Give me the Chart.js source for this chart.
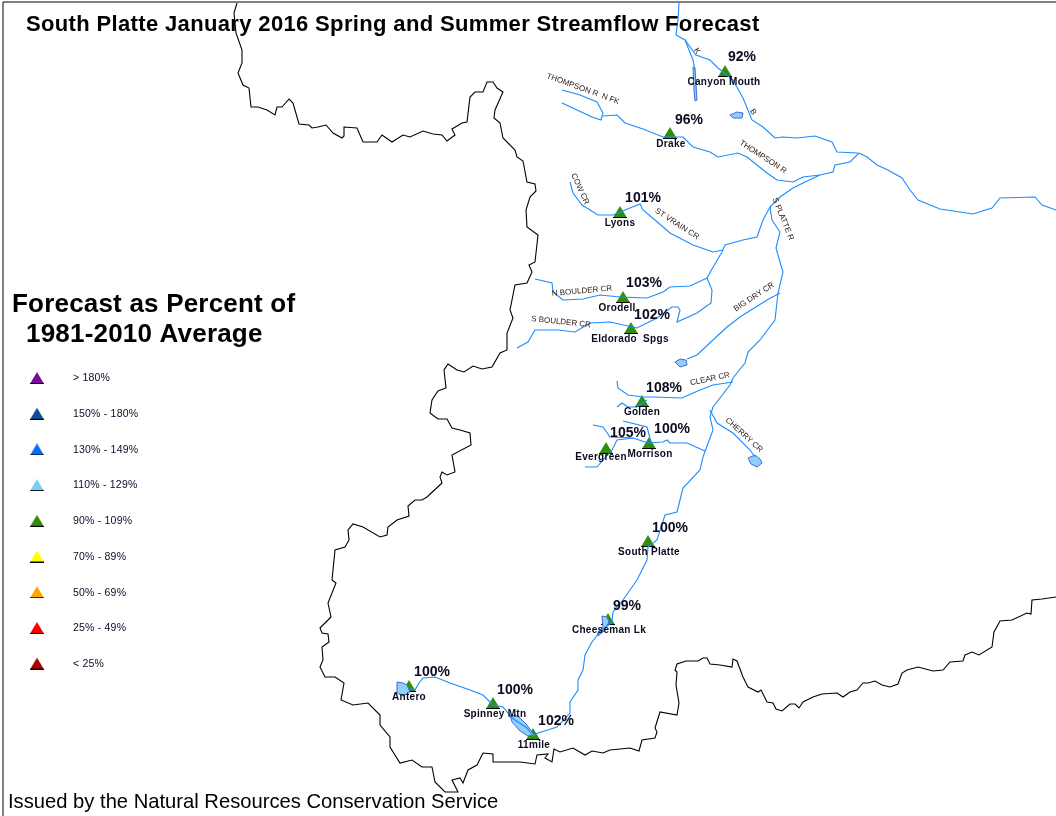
<!DOCTYPE html>
<html>
<head>
<meta charset="utf-8">
<script src="https://cdn.jsdelivr.net/npm/chart.js@4"></script>
<style>
  html, body { margin: 0; background: #fff; }
  canvas { display: block; }
</style>
</head>
<body>
<canvas id="map" width="1056" height="816"></canvas>
<script>
// stations
const stationNames = ['Canyon Mouth', 'Drake', 'Lyons', 'Orodell', 'Eldorado  Spgs', 'Golden', 'Morrison', 'Evergreen', 'South Platte', 'Cheeseman Lk', 'Spinney Mtn', '11mile', 'Antero'];
const stationPct = ['92%', '96%', '101%', '103%', '102%', '108%', '100%', '105%', '100%', '99%', '100%', '102%', '100%'];
const stationX = [725, 670, 620, 623, 631, 642, 649, 606, 648, 608, 493, 533, 409];
const stationY = [71, 133, 212, 297, 328, 401, 443, 448, 541, 619, 703, 734, 686];
const nameX = [724, 671, 620, 617, 630, 642, 650, 601, 649, 609, 495, 534, 409];
const nameY = [82, 144, 223, 308, 339, 412, 454, 457, 552, 630, 714, 745, 697];
const pctX = [742, 689, 643, 644, 652, 664, 672, 628, 670, 627, 515, 556, 432];
const pctY = [57, 120, 198, 283, 315, 388, 429, 433, 528, 606, 690, 721, 672];

// legend classes
const legendLabels = ['> 180%', '150% - 180%', '130% - 149%', '110% - 129%', '90% - 109%', '70% - 89%', '50% - 69%', '25% - 49%', '< 25%'];
const legendColors = ['#7a0a9c', '#0f4c9c', '#0a6cf0', '#78cdf5', '#2f8f0a', '#ffff00', '#ffa500', '#ff0000', '#a80000'];

// river names on the map
const riverNames = ['THOMPSON R  N FK', 'THOMPSON R', 'COW CR', 'ST VRAIN CR', 'S PLATTE R', 'K', 'B', 'N BOULDER CR', 'S BOULDER CR', 'BIG DRY CR', 'CLEAR CR', 'CHERRY CR'];
const riverNameX = [583, 763, 580, 677, 783, 697, 753, 582, 561, 754, 710, 744];
const riverNameY = [89, 157, 189, 224, 219, 51, 112, 291, 322, 297, 379, 435];
const riverNameAngle = [20, 33, 65, 33, 68, 60, 60, -5, 6, -33, -12, 42];

// basin outline
const boundary = [[237,3],[234,13],[236,33],[242,50],[242,63],[238,73],[243,85],[249,88],[251,107],[258,107],[267,110],[275,115],[277,107],[282,107],[289,99],[293,103],[299,124],[309,125],[312,128],[318,127],[326,125],[333,133],[342,138],[344,136],[344,127],[357,128],[363,142],[377,142],[382,135],[392,142],[403,135],[410,137],[423,131],[433,134],[442,135],[447,141],[455,135],[452,129],[462,123],[467,122],[470,97],[475,92],[483,92],[487,82],[493,82],[497,88],[503,92],[495,110],[494,118],[500,123],[503,138],[515,150],[517,157],[523,161],[527,182],[535,184],[536,191],[530,197],[526,210],[527,227],[538,235],[535,262],[529,265],[532,272],[527,283],[515,285],[510,310],[513,318],[507,333],[507,350],[500,353],[492,367],[482,369],[473,366],[464,372],[457,370],[448,364],[444,370],[446,388],[438,391],[432,400],[430,413],[438,419],[447,419],[452,428],[460,430],[470,433],[471,445],[452,455],[455,472],[447,475],[442,472],[440,477],[442,483],[427,497],[422,500],[415,500],[408,506],[409,516],[397,520],[388,527],[387,535],[380,537],[363,527],[353,524],[348,530],[349,540],[345,547],[335,550],[332,580],[336,583],[328,603],[331,617],[320,628],[322,633],[328,634],[329,642],[322,647],[323,660],[320,667],[325,677],[335,677],[344,683],[341,700],[353,705],[368,703],[380,715],[380,725],[390,737],[390,747],[400,763],[412,760],[422,767],[432,767],[435,782],[445,792],[458,792],[452,780],[460,778],[463,783],[468,770],[477,765],[483,753],[493,754],[493,762],[520,762],[535,764],[537,755],[548,754],[545,758],[552,762],[554,749],[560,752],[573,748],[585,755],[592,751],[603,753],[610,750],[620,749],[630,748],[639,751],[642,740],[655,738],[657,732],[655,728],[660,712],[677,715],[679,703],[676,685],[677,672],[675,670],[677,664],[686,661],[698,661],[703,658],[707,658],[710,664],[720,665],[732,667],[733,659],[737,661],[743,677],[748,687],[758,692],[761,690],[767,702],[773,703],[776,709],[782,711],[790,704],[795,704],[799,708],[803,702],[813,697],[822,694],[837,693],[843,697],[850,692],[857,690],[863,683],[868,683],[875,681],[882,685],[890,687],[898,684],[902,673],[907,670],[918,667],[933,671],[943,670],[950,662],[963,661],[965,655],[972,652],[979,655],[992,647],[994,632],[1000,621],[1012,620],[1027,613],[1031,614],[1032,600],[1042,599],[1056,597]];
const frame = [[3,816],[3,2],[1056,2]];

// streams
const cachePoudre = [[679,3],[678,20],[676,35],[685,40],[696,55],[710,60],[718,68],[733,80],[743,98],[752,120],[763,127],[775,138],[783,137],[797,138],[815,136],[832,142],[837,152],[858,153]];
const cacheBranch = [[685,40],[693,60],[695,70]];
const plattePlains = [[859,153],[867,157],[877,165],[888,170],[902,178],[910,190],[918,200],[940,209],[973,214],[992,208],[1000,198],[1035,197],[1042,205],[1056,210]];
const thompsonNorth = [[562,90],[580,95],[597,102],[603,113],[601,120],[592,117],[577,110],[562,103]];
const thompson = [[603,116],[617,115],[625,123],[643,129],[663,137],[683,137],[693,147],[710,152],[718,157],[738,153],[747,157],[767,173],[777,180],[793,182],[803,177],[820,175],[833,172],[835,165],[850,162],[859,153]];
const platteUpper = [[820,175],[805,182],[793,188],[780,197],[770,207],[772,220],[780,232],[776,248],[780,262],[783,272],[778,293],[775,320],[760,340],[748,352],[745,363],[733,378],[730,385],[713,407],[710,417],[713,430],[703,457],[700,470],[683,488],[677,512],[665,515],[657,540],[648,547],[647,560],[637,580],[623,600],[613,612],[612,622],[600,632],[592,642],[585,655],[583,670],[578,680],[578,690],[570,702],[570,713],[557,727],[538,733],[533,736]];
const platteMiddle = [[533,736],[527,728],[512,718],[503,707],[493,705],[483,695],[470,690],[450,683],[435,677],[423,678],[419,683],[415,690],[409,688]];
const boulderJoin = [[770,207],[763,220],[757,237],[743,240],[725,245],[722,252],[712,269],[707,278]];
const stVrain = [[570,182],[573,193],[582,205],[598,215],[613,215],[625,210],[640,204],[643,210],[655,220],[670,233],[693,245],[713,252],[723,250]];
const boulderNorth = [[535,279],[552,283],[553,292],[563,300],[583,299],[600,295],[620,297],[647,298],[663,292],[670,287],[690,286],[707,278]];
const boulderSouth = [[707,278],[712,290],[711,303],[697,313],[677,322],[680,310],[678,307],[672,307],[657,318],[637,328],[610,322],[590,323],[575,332],[558,330],[535,330],[528,342],[517,348]];
const bigDry = [[687,359],[697,355],[713,340],[727,327],[740,317],[767,300],[780,293]];
const clearCreek = [[617,381],[618,388],[628,395],[643,397],[653,397],[682,398],[700,390],[713,385],[733,382]];
const clearBranch = [[617,407],[622,403],[628,407],[637,407],[647,400]];
const bearCreek = [[593,425],[603,427],[610,437],[633,438],[648,443],[663,442],[667,440],[670,443],[687,443],[705,451]];
const bearUpper = [[623,421],[647,427],[651,442]];
const evergreenCreek = [[633,438],[617,440],[612,450],[603,460],[597,467],[585,467]];
const cherryCreek = [[710,410],[717,423],[733,433],[750,450],[755,457]];
const streams = [cachePoudre, cacheBranch, plattePlains, thompsonNorth, thompson, platteUpper, platteMiddle, boulderJoin, stVrain, boulderNorth, boulderSouth, bigDry, clearCreek, clearBranch, bearCreek, bearUpper, evergreenCreek, cherryCreek];

// lakes
const lakeCarter = [[693,67],[695,68],[696,85],[697,100],[695,101],[694,90]];
const lakeHorsetooth = [[730,115],[737,112],[743,113],[742,118],[733,118]];
const lakeBigDry = [[675,362],[680,359],[686,360],[687,365],[680,367]];
const lakeCherry = [[748,458],[755,455],[760,459],[762,463],[757,467],[751,464]];
const lakeAntero = [[397,682],[403,683],[407,685],[410,692],[403,696],[397,693]];
const lakeSpinney = [[510,715],[518,716],[527,725],[534,735],[528,736],[520,731],[512,722]];
const lakeCheeseman = [[602,616],[607,617],[609,622],[604,631],[598,636],[597,634],[603,627]];
const lakes = [lakeCarter, lakeHorsetooth, lakeBigDry, lakeCherry, lakeAntero, lakeSpinney, lakeCheeseman];

const toPts = arr => arr.map(p => ({ x: p[0], y: p[1] }));

// triangle marker with the black base the map symbols have
function makeMarker(color) {
  const c = document.createElement('canvas');
  c.width = 14; c.height = 12;
  const g = c.getContext('2d');
  g.beginPath();
  g.moveTo(7, 0);
  g.lineTo(13.5, 11);
  g.lineTo(0.5, 11);
  g.closePath();
  g.fillStyle = color;
  g.fill();
  g.fillStyle = '#000';
  g.fillRect(0, 11, 14, 1);
  return c;
}

const datasets = [];
streams.forEach(s => datasets.push({ data: toPts(s), showLine: true, borderColor: '#1a8cff', borderWidth: 1.1, pointRadius: 0 }));
lakes.forEach(l => datasets.push({ data: toPts(l.concat([l[0]])), showLine: true, fill: 'shape', backgroundColor: '#8fd0f5', borderColor: '#4169e1', borderWidth: 1, pointRadius: 0 }));
datasets.push({ data: toPts(boundary), showLine: true, borderColor: '#000', borderWidth: 1.1, pointRadius: 0 });
datasets.push({ data: toPts(frame), showLine: true, borderColor: '#000', borderWidth: 1, pointRadius: 0 });
datasets.push({
  data: stationX.map((x, i) => ({ x, y: stationY[i] })),
  pointStyle: makeMarker(legendColors[4]),
  showLine: false
});
legendLabels.forEach((l, i) => datasets.push({
  data: [{ x: 37, y: 378 + i * 35.7 }],
  pointStyle: makeMarker(legendColors[i]),
  showLine: false
}));

const textPlugin = {
  id: 'mapText',
  afterDatasetsDraw(chart) {
    const { ctx, scales: { x, y } } = chart;
    const put = (txt, px, py, font, align, spacing, color, angle) => {
      ctx.save();
      ctx.font = font;
      ctx.fillStyle = color || '#000';
      ctx.textAlign = align;
      ctx.textBaseline = 'middle';
      ctx.letterSpacing = spacing || '0px';
      ctx.translate(x.getPixelForValue(px), y.getPixelForValue(py));
      if (angle) ctx.rotate(angle * Math.PI / 180);
      ctx.fillText(txt, 0, 0);
      ctx.restore();
    };
    riverNames.forEach((n, i) => put(n, riverNameX[i], riverNameY[i], '8px "Liberation Sans"', 'center', '0px', '#2a1a10', riverNameAngle[i]));
    stationNames.forEach((n, i) => {
      put(n, nameX[i], nameY[i], 'bold 10px "Liberation Sans"', 'center', '0.3px', '#0a0a20');
      put(stationPct[i], pctX[i], pctY[i], 'bold 14px "Liberation Sans Narrow", "Liberation Sans"', 'center', '0px', '#0a0a20');
    });
    legendLabels.forEach((l, i) => put(l, 73, 378.5 + i * 35.7, '10.5px "Liberation Sans"', 'left', '0.2px', '#10082a'));
    put('South Platte January 2016 Spring and Summer Streamflow Forecast', 26, 25, 'bold 22px "Liberation Sans"', 'left', '0.35px');
    put('Forecast as Percent of', 12, 305, 'bold 26px "Liberation Sans"', 'left', '0.2px');
    put('1981-2010 Average', 26, 335, 'bold 26px "Liberation Sans"', 'left', '0.2px');
    put('Issued by the Natural Resources Conservation Service', 8, 802, '20.2px "Liberation Sans"', 'left', '0px');
  }
};

new Chart(document.getElementById('map').getContext('2d'), {
  type: 'scatter',
  data: { datasets },
  options: {
    responsive: false,
    animation: false,
    layout: { padding: 0, autoPadding: false },
    elements: { line: { tension: 0 } },
    scales: {
      x: { type: 'linear', min: 0, max: 1056, display: false },
      y: { type: 'linear', min: 0, max: 816, reverse: true, display: false }
    },
    plugins: { legend: { display: false }, tooltip: { enabled: false } }
  },
  plugins: [textPlugin]
});
</script>
</body>
</html>
